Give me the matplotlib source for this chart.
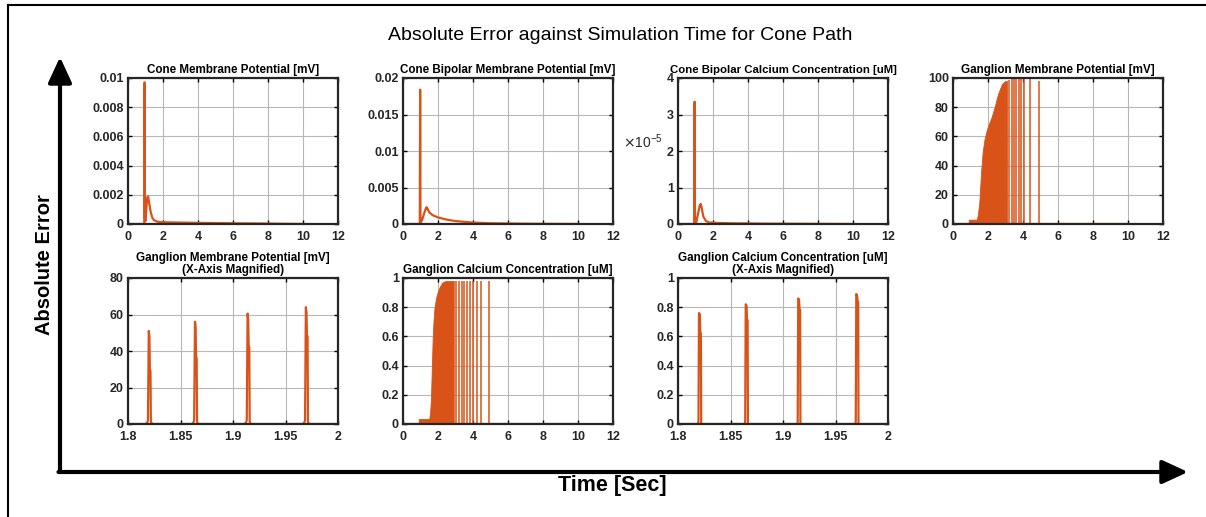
import numpy as np
import matplotlib
matplotlib.use("Agg")
import matplotlib.pyplot as plt
from matplotlib.lines import Line2D
from matplotlib.patches import FancyArrowPatch

plt.rcParams['font.family'] = ['Liberation Sans', 'DejaVu Sans']

ORANGE = '#D95319'

# ---------------- data ----------------
# Cone Membrane Potential [mV]
cone_t = [0, 0.93, 0.95, 0.97, 1.0, 1.05, 1.1, 1.15, 1.2, 1.3, 1.4, 1.5, 1.7, 2.0, 3.0, 4.0, 6.0, 8.0, 10.0]
cone_v = [0, 0, 0.0097, 0.0004, 0.0002, 0.0011, 0.0018, 0.0019, 0.0015, 0.0008, 0.0004, 0.00025, 0.00015, 0.00012, 0.0001, 0.00008, 0.00005, 0.00003, 0]

# Cone Bipolar Membrane Potential [mV]
bip_t = [0, 0.96, 0.98, 1.0, 1.1, 1.2, 1.3, 1.35, 1.4, 1.5, 1.7, 2.0, 2.5, 3.0, 3.5, 4.0, 5.0, 7.0, 10.0]
bip_v = [0, 0, 0.0184, 0.0001, 0.0006, 0.0014, 0.0021, 0.0023, 0.0021, 0.0016, 0.0012, 0.0009, 0.0006, 0.0004, 0.0003, 0.0002, 0.0001, 0.00004, 0]

# Cone Bipolar Calcium Concentration [uM]  (units of 1e-5)
bca_t = [0, 0.93, 0.95, 0.97, 1.05, 1.15, 1.25, 1.3, 1.35, 1.45, 1.6, 1.8, 2.2, 3.0, 5.0, 10.0]
bca_v = [0, 0, 3.35, 0.02, 0.05, 0.3, 0.52, 0.55, 0.45, 0.2, 0.08, 0.04, 0.03, 0.02, 0.01, 0]

# Ganglion Membrane Potential [mV] - envelope of dense spiking, then single spikes
gmp_env_t = [0.9, 0.9, 1.35, 1.4, 1.5, 1.6, 1.7, 1.8, 1.9, 2.0, 2.1, 2.2, 2.3, 2.4, 2.5, 2.6, 2.7, 2.8, 2.9, 3.0, 3.08]
gmp_env_v = [0, 3, 3, 5, 14, 35, 50, 58, 63, 67, 70, 73, 77, 81, 86, 90, 93, 96, 97, 98, 98]
gmp_spike_t = [3.2, 3.35, 3.5, 3.62, 3.75, 3.9, 4.05, 4.4, 4.9]
gmp_spike_v = [98.5, 99, 99.5, 100, 100, 100, 100, 100, 98]

# Ganglion Membrane Potential [mV] (X-Axis Magnified)
gmz_t = [1.8,
         1.8168, 1.8183, 1.8190, 1.8198, 1.8204, 1.8208, 1.8214, 1.8218, 1.8233,
         1.8608, 1.8623, 1.8630, 1.8638, 1.8644, 1.8648, 1.8654, 1.8658, 1.8673,
         1.9109, 1.9124, 1.9131, 1.9139, 1.9145, 1.9149, 1.9155, 1.9159, 1.9174,
         1.9664, 1.9679, 1.9686, 1.9694, 1.9700, 1.9704, 1.9710, 1.9714, 1.9729,
         2.0]
gmz_v = [0,
         0, 0.8, 2, 51, 48, 30, 29, 1, 0,
         0, 0.8, 2, 56, 53, 37, 36, 1, 0,
         0, 0.8, 2, 60.5, 57, 43, 42, 1, 0,
         0, 0.8, 2, 64, 61, 49, 48, 1, 0,
         0]

# Ganglion Calcium Concentration [uM]
gca_env_t = [0.9, 0.9, 1.5, 1.55, 1.6, 1.65, 1.7, 1.75, 1.8, 1.9, 2.0, 2.1, 2.25, 2.45, 2.9]
gca_env_v = [0, 0.035, 0.035, 0.08, 0.18, 0.4, 0.6, 0.72, 0.8, 0.87, 0.91, 0.94, 0.97, 0.98, 0.98]
gca_spike_t = [3.05, 3.2, 3.35, 3.5, 3.65, 3.8, 4.0, 4.2, 4.45, 4.9]
gca_spike_v = [0.98, 0.98, 0.98, 0.98, 0.98, 0.98, 0.98, 0.98, 0.98, 0.98]

# Ganglion Calcium Concentration [uM] (X-Axis Magnified)
gcz_t = [1.8,
         1.8192, 1.8195, 1.8200, 1.8208, 1.8212, 1.8218, 1.8221,
         1.8637, 1.8640, 1.8645, 1.8653, 1.8657, 1.8663, 1.8666,
         1.9137, 1.9140, 1.9145, 1.9153, 1.9157, 1.9163, 1.9166,
         1.9690, 1.9693, 1.9698, 1.9706, 1.9710, 1.9716, 1.9719,
         2.0]
gcz_v = [0,
         0, 0.02, 0.76, 0.75, 0.63, 0.62, 0,
         0, 0.02, 0.82, 0.81, 0.72, 0.71, 0,
         0, 0.02, 0.86, 0.85, 0.79, 0.78, 0,
         0, 0.02, 0.89, 0.88, 0.845, 0.835, 0,
         0]

full_xticks = [0, 2, 4, 6, 8, 10, 12]
zoom_xticks = [1.8, 1.85, 1.9, 1.95, 2.0]
zoom_xlabels = ['1.8', '1.85', '1.9', '1.95', '2']


def style_axes(ax, title, xlim, xticks, xlabels, ylim, yticks, ylabels, title_size=8.4):
    # MATLAB-like look: box, ticks inside on all sides, grey grid
    ax.set_xlim(xlim)
    ax.set_ylim(ylim)
    ax.set_xticks(xticks)
    ax.set_xticklabels(xlabels)
    ax.set_yticks(yticks)
    ax.set_yticklabels(ylabels)
    ax.grid(True, color='#b8b8b8', linewidth=0.8)
    ax.set_axisbelow(True)
    for s in ax.spines.values():
        s.set_linewidth(1.6)
        s.set_color('#262626')
    ax.tick_params(direction='in', top=True, right=True, length=3, width=1, labelsize=9)
    ax.tick_params(axis='x', pad=5)
    ax.tick_params(axis='y', pad=3)
    for lab in ax.get_xticklabels() + ax.get_yticklabels():
        lab.set_fontweight('bold')
        lab.set_color('#262626')
    ax.set_title(title, fontsize=title_size, fontweight='bold', pad=3.5, linespacing=1.0)


fig = plt.figure(figsize=(12.06, 5.17), dpi=100)
W, H = 1206.0, 517.0


def add_ax(left_px, top_px, w_px=210, h_px=146):
    return fig.add_axes([left_px / W, 1 - (top_px + h_px) / H, w_px / W, h_px / H])


# ---- row 1 ----
ax1 = add_ax(128, 78)
ax1.plot(cone_t, cone_v, color=ORANGE, lw=1.6)
style_axes(ax1, 'Cone Membrane Potential [mV]', (0, 12), full_xticks, [str(v) for v in full_xticks],
           (0, 0.01), [0, 0.002, 0.004, 0.006, 0.008, 0.01],
           ['0', '0.002', '0.004', '0.006', '0.008', '0.01'])

ax2 = add_ax(403, 78)
ax2.plot(bip_t, bip_v, color=ORANGE, lw=1.6)
style_axes(ax2, 'Cone Bipolar Membrane Potential [mV]', (0, 12), full_xticks, [str(v) for v in full_xticks],
           (0, 0.02), [0, 0.005, 0.01, 0.015, 0.02],
           ['0', '0.005', '0.01', '0.015', '0.02'])

ax3 = add_ax(678, 78)
ax3.plot(bca_t, bca_v, color=ORANGE, lw=1.6)
style_axes(ax3, 'Cone Bipolar Calcium Concentration [uM]', (0, 12), full_xticks, [str(v) for v in full_xticks],
           (0, 4), [0, 1, 2, 3, 4], ['0', '1', '2', '3', '4'], title_size=8.2)
fig.text(663 / W, 1 - 142 / H, r'$\times$10$^{\mathregular{-5}}$', ha='right', va='center',
         fontsize=10, color='#262626')

ax4 = add_ax(953, 78)
ax4.plot([0, 10], [0, 0], color=ORANGE, lw=1.6)
ax4.fill_between(gmp_env_t, 0, gmp_env_v, color=ORANGE, lw=0.6, edgecolor=ORANGE)
ax4.vlines(gmp_spike_t, 0, gmp_spike_v, color=ORANGE, lw=1.1)
style_axes(ax4, 'Ganglion Membrane Potential [mV]', (0, 12), full_xticks, [str(v) for v in full_xticks],
           (0, 100), [0, 20, 40, 60, 80, 100], ['0', '20', '40', '60', '80', '100'])

# ---- row 2 ----
ax5 = add_ax(128, 278)
ax5.plot(gmz_t, gmz_v, color=ORANGE, lw=1.6)
style_axes(ax5, 'Ganglion Membrane Potential [mV]\n(X-Axis Magnified)', (1.8, 2.0), zoom_xticks, zoom_xlabels,
           (0, 80), [0, 20, 40, 60, 80], ['0', '20', '40', '60', '80'])

ax6 = add_ax(403, 278)
ax6.plot([0, 10], [0, 0], color=ORANGE, lw=1.6)
ax6.fill_between(gca_env_t, 0, gca_env_v, color=ORANGE, lw=0.6, edgecolor=ORANGE)
ax6.vlines(gca_spike_t, 0, gca_spike_v, color=ORANGE, lw=1.1)
style_axes(ax6, 'Ganglion Calcium Concentration [uM]', (0, 12), full_xticks, [str(v) for v in full_xticks],
           (0, 1), [0, 0.2, 0.4, 0.6, 0.8, 1], ['0', '0.2', '0.4', '0.6', '0.8', '1'])

ax7 = add_ax(678, 278)
ax7.plot(gcz_t, gcz_v, color=ORANGE, lw=1.6)
style_axes(ax7, 'Ganglion Calcium Concentration [uM]\n(X-Axis Magnified)', (1.8, 2.0), zoom_xticks, zoom_xlabels,
           (0, 1), [0, 0.2, 0.4, 0.6, 0.8, 1], ['0', '0.2', '0.4', '0.6', '0.8', '1'])

# ---- figure decorations ----
fig.text(620 / W, 1 - 35 / H, 'Absolute Error against Simulation Time for Cone Path',
         ha='center', va='center', fontsize=14)
fig.text(45 / W, 1 - 265 / H, 'Absolute Error', rotation=90, ha='center', va='center',
         fontsize=14.5, fontweight='bold')
fig.text(612 / W, 1 - 485 / H, 'Time [Sec]', ha='center', va='center',
         fontsize=15.5, fontweight='bold')

# outer frame (only left and top edges are visible)
fig.add_artist(Line2D([8 / W, 8 / W], [0, 1 - 5 / H], transform=fig.transFigure, color='black', lw=1.5))
fig.add_artist(Line2D([8 / W, 1], [1 - 5 / H, 1 - 5 / H], transform=fig.transFigure, color='black', lw=1.5))

# axis arrows
fig.add_artist(FancyArrowPatch((60 / W, 1 - 472 / H), (60 / W, 1 - 57 / H), transform=fig.transFigure,
                               arrowstyle='-|>,head_length=1.3,head_width=0.6', mutation_scale=12,
                               color='black', lw=3, shrinkA=0, shrinkB=0))
fig.add_artist(FancyArrowPatch((58.5 / W, 1 - 472 / H), (1188 / W, 1 - 472 / H), transform=fig.transFigure,
                               arrowstyle='-|>,head_length=1.3,head_width=0.6', mutation_scale=12,
                               color='black', lw=3, shrinkA=0, shrinkB=0))

fig.savefig('out.png', dpi=100)
